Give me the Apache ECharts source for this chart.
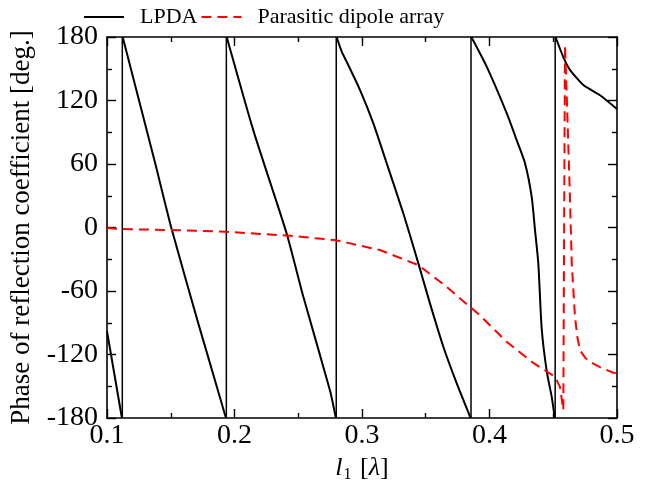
<!DOCTYPE html>
<html>
<head>
<meta charset="utf-8">
<script src="https://cdn.jsdelivr.net/npm/echarts@6/dist/echarts.min.js"></script>
<style>html,body{margin:0;padding:0;background:#fff;}#c{width:648px;height:481px;}</style>
</head>
<body>
<div id="c"></div>
<script>
const seriesNames = ['LPDA', 'Parasitic dipole array'];
const xTickLabels = ['0.1', '0.2', '0.3', '0.4', '0.5'];
const yTickLabels = ['-180', '-120', '-60', '0', '60', '120', '180'];

// LPDA phase curve, one branch per 360-degree wrap (null separates branches)
const lpdaX = [0.1, 0.1117, null,
  0.1123, 0.1378, 0.1507, 0.1716, 0.1808, 0.1933, null,
  0.1939, 0.2147, 0.2409, 0.254, 0.2749, 0.2795, null,
  0.2801, 0.2841, 0.288, 0.2984, 0.3089, 0.3194, 0.3324, 0.3442, 0.3533, 0.3638, 0.3743, 0.3852, null,
  0.3858, 0.3978, 0.4135, 0.4213, 0.4278, 0.4331, 0.4357, 0.4383, 0.4409, 0.4449, 0.4488, 0.4512, null,
  0.4518, 0.4579, 0.4631, 0.4736, 0.4867, 0.5];
const lpdaY = [-98, -180, null,
  180, 60.6, -1.5, -90.6, -128.4, -180, null,
  180, 92, -5.6, -65.5, -154, -180, null,
  180, 166.1, 156.6, 130, 98.4, 60.6, 13.4, -33.9, -71.7, -112.7, -147.3, -180, null,
  180, 152, 108, 82.6, 61, 29, -2.4, -34, -95, -136, -160, -180, null,
  180, 161, 149, 134.6, 125, 112];
// positions of the -180 -> +180 wraps of the LPDA curve
const lpdaWrapX = [0.112, 0.1936, 0.2798, 0.3855, 0.4515];

const arrayX = [0.1, 0.1123, 0.1507, 0.1933, 0.2435, 0.2786, 0.2906, 0.3141, 0.3442, 0.3664, 0.3847, 0.3925,
  0.4135, 0.4344, 0.4514, 0.4553, 0.4579, 0.4592, 0.4606, 0.4631, 0.4645, 0.4671, 0.469, 0.471, 0.475, 0.4788,
  0.4867, 0.4967, 0.5];
const arrayY = [-0.5, -1.5, -2.4, -4, -7.8, -11.9, -15, -21.3, -35.5, -56, -75, -83,
  -108, -128, -141, -150.6, -172.5, 172.5, 123.6, 29, -34, -85, -104, -116, -123, -127,
  -132, -137, -138];

const FONT = 'Liberation Serif';
const zip = (xs, ys) => xs.map((x, i) => (x === null ? ['-', '-'] : [x, ys[i]]));
const wrapData = [];
lpdaWrapX.forEach(x => { wrapData.push([x, -180], [x, 180], ['-', '-']); });

const axisLine = { onZero: false, lineStyle: { color: '#000', width: 1.6 } };
const axisTick = { show: true, inside: true, length: 9, lineStyle: { color: '#000', width: 1.4 } };
const minorTick = { show: true, splitNumber: 2, length: 5, lineStyle: { color: '#000', width: 1.4 } };

function xAxisBase(pos, showLabel) {
  return {
    type: 'value', position: pos, min: 0.1, max: 0.5, interval: 0.1,
    axisLine, axisTick, minorTick,
    splitLine: { show: false }, minorSplitLine: { show: false },
    axisLabel: {
      show: showLabel, color: '#000', fontFamily: FONT, fontSize: 28, margin: 4,
      formatter: (v, i) => xTickLabels[i]
    }
  };
}
function yAxisBase(pos, showLabel) {
  return {
    type: 'value', position: pos, min: -180, max: 180, interval: 60,
    axisLine, axisTick, minorTick,
    splitLine: { show: false }, minorSplitLine: { show: false },
    axisLabel: {
      show: showLabel, color: '#000', fontFamily: FONT, fontSize: 28, margin: 9,
      formatter: (v, i) => yTickLabels[i]
    }
  };
}

const xBottom = Object.assign(xAxisBase('bottom', true), {
  name: '{it|l}{sub|1}{n| [}{it|λ}{n|]}',
  nameLocation: 'middle', nameGap: 33,
  nameTextStyle: {
    color: '#000', fontFamily: FONT, fontSize: 26,
    rich: {
      it: { fontStyle: 'italic', fontFamily: FONT, fontSize: 26, color: '#000' },
      sub: { fontFamily: FONT, fontSize: 16, color: '#000', padding: [14, 2, 0, 1] },
      n: { fontFamily: FONT, fontSize: 26, color: '#000' }
    }
  }
});
const yLeft = Object.assign(yAxisBase('left', true), {
  name: 'Phase of reflection coefficient [deg.]',
  nameLocation: 'middle', nameGap: 72,
  nameTextStyle: { color: '#000', fontFamily: FONT, fontSize: 27 }
});

const chart = echarts.init(document.getElementById('c'), null, { renderer: 'canvas' });
chart.setOption({
  animation: false,
  backgroundColor: '#fff',
  grid: { left: 107, right: 31, top: 37, bottom: 63, containLabel: false, outerBoundsMode: 'none' },
  legend: {
    data: seriesNames,
    left: 78, top: 1,
    itemWidth: 40, itemHeight: 12, itemGap: 3,
    itemStyle: { opacity: 0 },
    textStyle: { color: '#000', fontFamily: FONT, fontSize: 22, padding: [0, 0, 0, 11] }
  },
  xAxis: [xBottom, xAxisBase('top', false)],
  yAxis: [yLeft, yAxisBase('right', false)],
  series: [
    {
      name: seriesNames[0], type: 'line', xAxisIndex: 0, yAxisIndex: 0,
      data: zip(lpdaX, lpdaY), showSymbol: false, symbol: 'none',
      smooth: 0.2, connectNulls: false,
      lineStyle: { color: '#000', width: 2 }, itemStyle: { color: '#000' }
    },
    {
      name: seriesNames[0], type: 'line', xAxisIndex: 0, yAxisIndex: 0,
      data: wrapData, showSymbol: false, symbol: 'none', connectNulls: false,
      lineStyle: { color: '#000', width: 1.5 }, itemStyle: { color: '#000' }
    },
    {
      name: seriesNames[1], type: 'line', xAxisIndex: 0, yAxisIndex: 0,
      data: zip(arrayX, arrayY), showSymbol: false, symbol: 'none',
      lineStyle: { color: '#ff0000', width: 2, type: [10, 6] }, itemStyle: { color: '#ff0000' }
    }
  ]
});
</script>
</body>
</html>
